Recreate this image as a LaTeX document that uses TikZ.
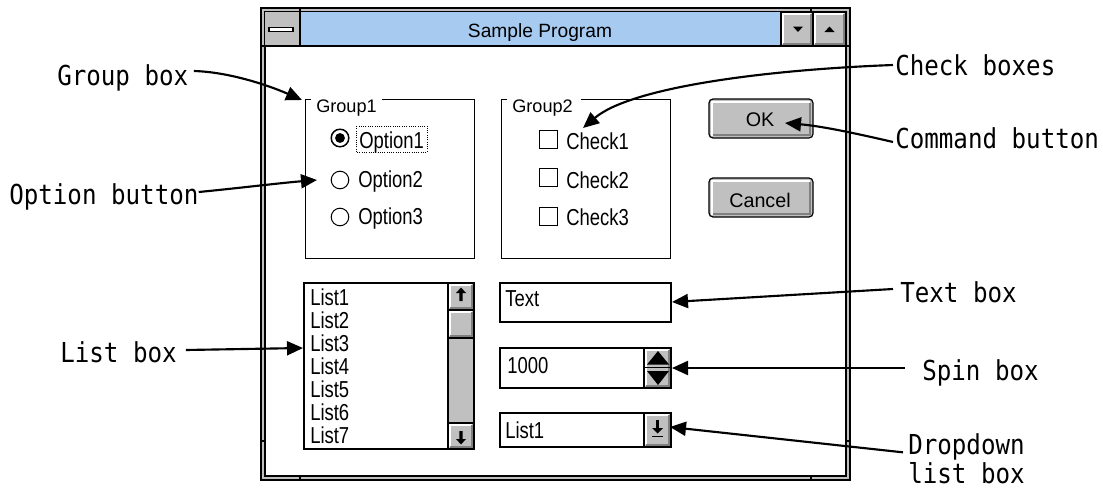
\documentclass[tikz,border=0pt]{standalone}
\usepackage{fontspec}
\setmainfont{Liberation Sans}
\newfontfamily\lblfont{DejaVu Sans Mono}[FakeStretch=0.88]
\newfontfamily\uifont{Liberation Sans}[FakeStretch=0.8]
\newfontfamily\plainfont{Liberation Sans}
\usetikzlibrary{arrows.meta,calc}
\definecolor{wgray}{HTML}{C0C0C0}
\definecolor{wdark}{HTML}{808080}
\definecolor{tblue}{HTML}{A6CAF0}
\newcommand\bevelbox[4]{%
  \fill[wgray] (#1,#2) rectangle (#3,#4);
  \draw[white, line width=1.5pt] ({#1+1.8},{#4-1.8}) -- ({#1+1.8},{#2+1.8}) -- ({#3-1.8},{#2+1.8});
  \draw[wdark, line width=1.5pt] ({#1+1.8},{#4-1.8}) -- ({#3-1.8},{#4-1.8}) -- ({#3-1.8},{#2+1.8});
  \draw[black, line width=0.8pt] (#1,#2) rectangle (#3,#4);}
\tikzset{
  lbl/.style={font={\lblfont\fontsize{20.6pt}{22pt}\selectfont}, inner sep=0pt},
  ui/.style={font={\uifont\fontsize{17.3pt}{20pt}\selectfont}, inner sep=0pt, anchor=base west},
  grp/.style={font={\plainfont\fontsize{13.6pt}{16pt}\selectfont}, inner sep=0pt, anchor=base west},
  ttl/.style={font={\plainfont\fontsize{14.4pt}{17pt}\selectfont}, inner sep=0pt, anchor=base},
  btntxt/.style={font={\plainfont\fontsize{14.8pt}{17pt}\selectfont}, inner sep=0pt, anchor=base},
  arr/.style={line width=1.6pt, -{Triangle[length=12pt,width=10.5pt]}},
  hair/.style={line width=0.75pt}
}
\begin{document}
\begin{tikzpicture}[x=0.75pt,y=-0.75pt]
\useasboundingbox (0,0) rectangle (1103,489);

% ---------- window frame ----------
\filldraw[fill=wgray, draw=black, line width=0.9pt] (261,8) rectangle (850,480);
\filldraw[fill=white, draw=black, line width=0.9pt] (265,12) rectangle (846,476);
\draw[line width=0.9pt] (300,8)--(300,12) (811,8)--(811,12) (300,476)--(300,480) (811,476)--(811,480)
  (261,46)--(265,46) (846,46)--(850,46) (261,441)--(265,441) (846,441)--(850,441);

% ---------- title bar ----------
\fill[wgray] (265,12) rectangle (300,46);
\filldraw[fill=white, draw=black, line width=1.2pt] (269,27.5) rectangle (293,31.5);
\fill[tblue] (300,12) rectangle (781,46);
\bevelbox{781}{12}{813}{46}
\bevelbox{813}{12}{846}{46}
\fill (793,26.5) -- (803,26.5) -- (798,32) -- cycle;
\fill (824.5,32) -- (834.5,32) -- (829.5,26.5) -- cycle;
\draw[line width=0.9pt] (265,46)--(846,46) (300,12)--(300,46) (781,12)--(781,46);
\node[ttl] (title) at (540,37) {Sample Program};

% ---------- group 1 ----------
\draw[hair] (311,99)--(305,99)--(305,258)--(474,258)--(474,99)--(382,99);
\node[grp] (grp1) at (316,112) {Group1};
\draw[line width=1.1pt] (340,138) circle[radius=6.6pt];
\fill (340,138) circle[radius=3.7pt];
\draw[hair] (340,180) circle[radius=6.6pt];
\draw[hair] (340,217) circle[radius=6.6pt];
\node[ui] (opt1) at (359,148) {Option1};
\draw[densely dotted, line width=0.7pt] (356,126) rectangle (427,152);
\node[ui] (opt2) at (358,187) {Option2};
\node[ui] (opt3) at (358,224) {Option3};

% ---------- group 2 ----------
\draw[hair] (507,99)--(501,99)--(501,258)--(670,258)--(670,99)--(581,99);
\node[grp] (grp2) at (512,112) {Group2};
\draw[hair] (539,130) rectangle (557,148);
\draw[hair] (539,168) rectangle (557,186);
\draw[hair] (539,207) rectangle (557,225);
\node[ui] (chk1) at (566,149) {Check1};
\node[ui] (chk2) at (566,188) {Check2};
\node[ui] (chk3) at (566,225) {Check3};

% ---------- OK / Cancel ----------
\filldraw[fill=wgray, draw=black, line width=0.9pt, rounded corners=3pt] (709,99) rectangle (813,138);
\draw[white, line width=1.5pt] (711.8,135.5) -- (711.8,101.8) -- (810.2,101.8);
\draw[wdark, line width=1.5pt] (712.5,135.2) -- (810.2,135.2) -- (810.2,102.5);
\node[btntxt] (okt) at (760,126.5) {OK};
\filldraw[fill=wgray, draw=black, line width=0.9pt, rounded corners=3pt] (709,178) rectangle (813,217);
\draw[white, line width=1.5pt] (711.8,214.5) -- (711.8,180.8) -- (810.2,180.8);
\draw[wdark, line width=1.5pt] (712.5,214.2) -- (810.2,214.2) -- (810.2,181.5);
\node[btntxt] (cancelt) at (760,207) {Cancel};

% ---------- list box ----------
\draw[line width=0.9pt] (304,283) rectangle (474,449);
\fill[wgray] (448,283) rectangle (474,449);
\bevelbox{448}{283}{474}{310}
\bevelbox{448}{310}{474}{338}
\bevelbox{448}{423}{474}{449}
\draw[line width=0.9pt] (448,283)--(448,449) (304,283) rectangle (474,449);
\fill (461,287.5) -- (466,293) -- (462.6,293) -- (462.6,301) -- (459.4,301) -- (459.4,293) -- (456,293) -- cycle;
\fill (461,444.5) -- (466,439) -- (462.6,439) -- (462.6,431) -- (459.4,431) -- (459.4,439) -- (456,439) -- cycle;
\foreach \i in {1,...,7}
  \node[ui] (list\i) at (310,{305+23*(\i-1)}) {List\i};

% ---------- text box ----------
\draw[line width=0.9pt] (500,283) rectangle (671,322);
\node[ui] (txt) at (505,306) {Text};

% ---------- spin box ----------
\draw[line width=0.9pt] (500,348) rectangle (671,388);
\bevelbox{644}{348}{671}{388}
\draw[line width=0.9pt] (644,367.8)--(671,367.8);
\fill (647,364.5) -- (669,364.5) -- (658,351) -- cycle;
\fill (647,371) -- (669,371) -- (658,385) -- cycle;
\node[ui] (spinv) at (507,373) {1000};

% ---------- dropdown ----------
\draw[line width=0.9pt] (500,413) rectangle (671,447);
\bevelbox{644}{413}{671}{447}
\fill (656.3,420) rectangle (658.7,428);
\fill (652,428) -- (663,428) -- (657.5,433.5) -- cycle;
\draw[line width=1.2pt] (652,436.5)--(663,436.5);
\node[ui] (dropv) at (505,438) {List1};

% ---------- labels ----------
\node[lbl, anchor=base west] (lGroup) at (57,85) {Group box};
\node[lbl, anchor=base west] (lOption) at (9,204) {Option button};
\node[lbl, anchor=base west] (lList) at (60,362) {List box};
\node[lbl, anchor=base west] (lCheck) at (895,75) {Check boxes};
\node[lbl, anchor=base west] (lCommand) at (895,148) {Command button};
\node[lbl, anchor=base west] (lText) at (900,302) {Text box};
\node[lbl, anchor=base west] (lSpin) at (922,380) {Spin box};
\node[lbl, anchor=west, align=center] (lDrop) at (908,459) {Dropdown\\list box};

% ---------- arrow targets ----------
\coordinate (tGroup) at (302,100);
\coordinate (tOption) at (317,180);
\coordinate (tList) at (303,348);
\coordinate (tCheck) at (583,128);
\coordinate (tOK) at (785,123);
\coordinate (tText) at (672,302);
\coordinate (tSpin) at (672,368);
\coordinate (tDrop) at (670,427);

% ---------- arrows ----------
\draw[arr] ([xshift=4pt,yshift=10.5pt]lGroup.base east) .. controls (230,72) and (270,86) .. (tGroup);
\draw[arr] ([yshift=9pt]lOption.base east) .. controls (240,188) and (280,183) .. (tOption);
\draw[arr] ([xshift=6.75pt,yshift=9pt]lList.base east) -- (tList);
\draw[arr] ([xshift=-1.5pt,yshift=7.5pt]lCheck.base west) .. controls (760,70) and (630,88) .. (tCheck);
\draw[arr] ([xshift=-1.5pt,yshift=4.5pt]lCommand.base west) .. controls (850,132) and (820,126) .. (tOK);
\draw[arr] ([xshift=-5.25pt,yshift=9.75pt]lText.base west) -- (tText);
\draw[arr] ([xshift=-12.75pt,yshift=9pt]lSpin.base west) -- (tSpin);
\draw[arr] ([xshift=-3.75pt,yshift=5pt]lDrop.west) -- (tDrop);
\end{tikzpicture}
\end{document}
